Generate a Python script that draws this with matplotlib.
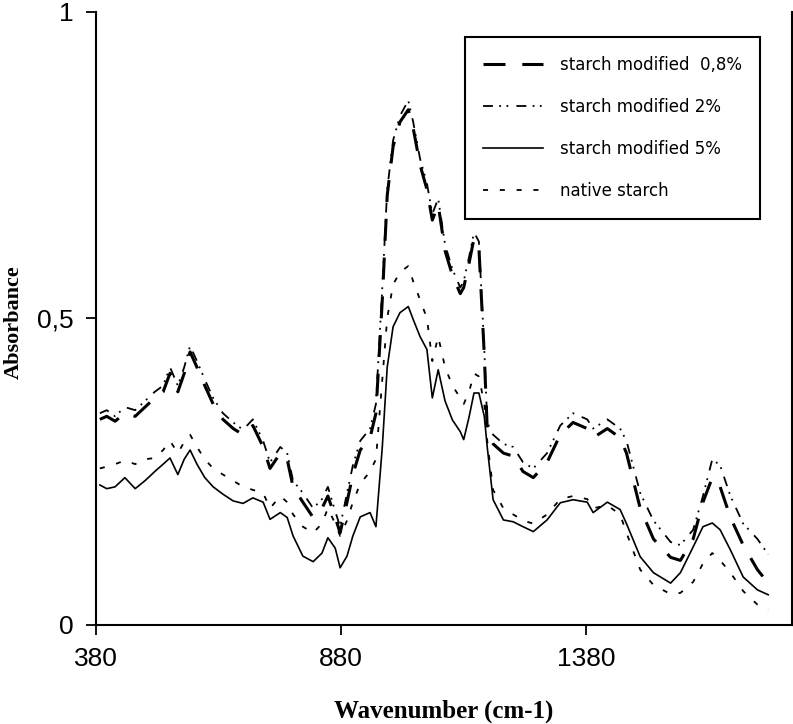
#FTIR spectra of native and modified starch
import numpy as np
import matplotlib.pyplot as plt

# wavenumber (cm-1)
wn = [388, 402, 419, 439, 460, 480, 500, 517, 531, 547, 560, 572, 586, 602, 619, 639,
      660, 680, 700, 721, 735, 756, 770, 782, 802, 823, 841, 853, 868, 878, 892, 904,
      919, 939, 951, 964, 974, 986, 1000, 1017, 1027, 1041, 1055, 1066, 1078, 1092,
      1107, 1123, 1130, 1141, 1151, 1161, 1172, 1178, 1190, 1211, 1231, 1251, 1272,
      1300, 1327, 1353, 1382, 1394, 1423, 1449, 1462, 1490, 1517, 1552, 1572, 1598,
      1618, 1637, 1653, 1674, 1700, 1729, 1751]

# absorbance, starch modified 0,8%
mod08 = [0.335, 0.34, 0.332, 0.345, 0.34, 0.355, 0.37, 0.38, 0.41, 0.38, 0.41, 0.445,
         0.42, 0.39, 0.36, 0.335, 0.32, 0.31, 0.325, 0.29, 0.255, 0.28, 0.27, 0.225,
         0.2, 0.175, 0.19, 0.21, 0.175, 0.15, 0.2, 0.245, 0.285, 0.305, 0.345, 0.53,
         0.7, 0.78, 0.82, 0.84, 0.81, 0.75, 0.71, 0.66, 0.685, 0.61, 0.57, 0.54, 0.55,
         0.59, 0.63, 0.615, 0.44, 0.32, 0.295, 0.28, 0.275, 0.25, 0.24, 0.265, 0.31,
         0.33, 0.32, 0.305, 0.32, 0.305, 0.28, 0.19, 0.14, 0.11, 0.105, 0.14, 0.2,
         0.24, 0.225, 0.175, 0.13, 0.09, 0.068]

# absorbance, starch modified 2%
mod2 = [0.345, 0.35, 0.34, 0.355, 0.35, 0.365, 0.38, 0.39, 0.42, 0.39, 0.42, 0.455,
        0.43, 0.40, 0.37, 0.345, 0.33, 0.318, 0.335, 0.30, 0.265, 0.29, 0.28, 0.235,
        0.215, 0.19, 0.205, 0.225, 0.185, 0.16, 0.215, 0.26, 0.30, 0.32, 0.36, 0.55,
        0.71, 0.79, 0.83, 0.855, 0.82, 0.76, 0.72, 0.67, 0.695, 0.62, 0.58, 0.55, 0.56,
        0.60, 0.64, 0.625, 0.45, 0.33, 0.31, 0.295, 0.29, 0.265, 0.255, 0.28, 0.325,
        0.345, 0.335, 0.32, 0.335, 0.32, 0.30, 0.215, 0.17, 0.135, 0.13, 0.155, 0.21,
        0.27, 0.26, 0.21, 0.165, 0.14, 0.115]

# absorbance, starch modified 5%
mod5 = [0.228, 0.222, 0.225, 0.24, 0.222, 0.235, 0.25, 0.262, 0.272, 0.245, 0.27, 0.285,
        0.262, 0.24, 0.225, 0.213, 0.202, 0.198, 0.207, 0.2, 0.172, 0.183, 0.175, 0.145,
        0.112, 0.103, 0.117, 0.142, 0.125, 0.093, 0.112, 0.145, 0.176, 0.183, 0.16,
        0.29, 0.42, 0.486, 0.509, 0.519, 0.498, 0.47, 0.449, 0.37, 0.416, 0.365, 0.334,
        0.315, 0.302, 0.339, 0.378, 0.378, 0.34, 0.29, 0.204, 0.171, 0.168, 0.16, 0.152,
        0.171, 0.199, 0.204, 0.2, 0.183, 0.2, 0.188, 0.165, 0.111, 0.085, 0.068, 0.085,
        0.127, 0.16, 0.166, 0.155, 0.122, 0.078, 0.057, 0.049]

# absorbance, native starch
native = [0.255, 0.258, 0.262, 0.268, 0.262, 0.27, 0.272, 0.285, 0.30, 0.28, 0.298, 0.31,
          0.29, 0.27, 0.255, 0.245, 0.235, 0.225, 0.22, 0.215, 0.19, 0.21, 0.2, 0.18,
          0.16, 0.15, 0.165, 0.19, 0.165, 0.145, 0.17, 0.2, 0.23, 0.25, 0.27, 0.4, 0.5,
          0.555, 0.575, 0.585, 0.56, 0.53, 0.5, 0.43, 0.47, 0.42, 0.39, 0.37, 0.36, 0.38,
          0.41, 0.405, 0.36, 0.3, 0.22, 0.19, 0.18, 0.17, 0.165, 0.18, 0.205, 0.21, 0.205,
          0.19, 0.195, 0.18, 0.15, 0.09, 0.065, 0.05, 0.052, 0.07, 0.1, 0.117, 0.105,
          0.085, 0.055, 0.033, 0.024]

labels = ['starch modified  0,8%', 'starch modified 2%', 'starch modified 5%', 'native starch']
xticks = [380, 880, 1380]
yticks = [0, 0.5, 1]
yticklabels = ['0', '0,5', '1']

fig = plt.figure(figsize=(7.93, 7.24), dpi=100)
ax = fig.add_axes([0.121, 0.137, 0.878, 0.847])

ax.plot(wn, mod08, color='black', lw=2.2, dashes=(7.2, 5.5), label=labels[0])
ax.plot(wn, mod2, color='black', lw=1.3, dashes=(5.5, 3.5, 1.0, 3.0, 1.0, 4.5), label=labels[1])
ax.plot(wn, mod5, color='black', lw=1.2, label=labels[2])
ax.plot(wn, native, color='black', lw=1.3, dashes=(2.8, 6.5), label=labels[3])

ax.set_xlim(380, 1800)
ax.set_ylim(0, 1)
ax.set_xticks(xticks)
ax.set_yticks(yticks)
ax.set_yticklabels(yticklabels)
ax.tick_params(direction='out', length=7, width=1.3, pad=9,
               labelsize=19, labelfontfamily='Liberation Sans')
ax.spines['top'].set_visible(False)
for s in ['left', 'bottom', 'right']:
    ax.spines[s].set_linewidth(1.5)

ax.set_xlabel('Wavenumber (cm-1)', family='Liberation Serif', weight='bold', fontsize=18)
ax.xaxis.set_label_coords(0.5, -0.122)
fig.text(0.017, 0.555, 'Absorbance', family='Liberation Serif', weight='bold',
         fontsize=16, rotation=90, ha='center', va='center')

# legend box
leg = ax.legend(loc='upper left', bbox_to_anchor=(0.53, 0.958), fontsize=12,
                fancybox=False, edgecolor='black', framealpha=1,
                handlelength=3.6, handletextpad=1.0, labelspacing=1.45,
                borderpad=1.1, borderaxespad=0)
leg.get_frame().set_linewidth(1.5)

plt.savefig('out.png', dpi=100)
